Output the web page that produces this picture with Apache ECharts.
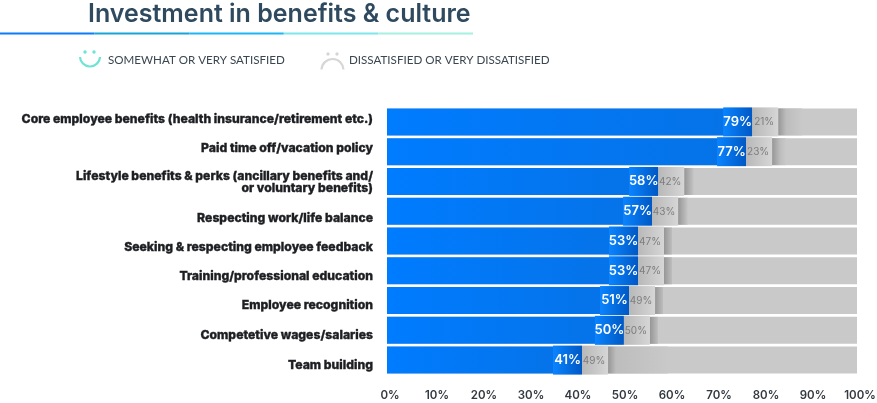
<!DOCTYPE html>
<html><head><meta charset="utf-8">
<style>html,body{margin:0;padding:0;background:#fff}#c{width:877px;height:403px}</style>
<script src="https://cdn.jsdelivr.net/npm/echarts@6/dist/echarts.min.js"></script>
</head><body><div id="c"></div>
<script>
const categories = [
  "Core employee benefits (health insurance/retirement etc.)",
  "Paid time off/vacation policy",
  "Lifestyle benefits & perks (ancillary benefits and/\nor voluntary benefits)",
  "Respecting work/life balance",
  "Seeking & respecting employee feedback",
  "Training/professional education",
  "Employee recognition",
  "Competetive wages/salaries",
  "Team building"
];
const satisfiedLabels = [79,77,58,57,53,53,51,50,41];
const dissatisfiedLabels = [21,23,42,43,47,47,49,50,49];
const barLengths = [77.7,76.4,57.7,56.4,53.4,53.4,51.5,50.4,41.5];
const trackValues = [100,100,100,100,100,100,100,100,100];
const shadeWidths = [24,14,10,10,8,8,8,8,60];
const labelShifts = [-3,-3,1,7,6,6,5,5,5];
const xTicks = [0,10,20,30,40,50,60,70,80,90,100];

const chart = echarts.init(document.getElementById('c'), null, {renderer:'canvas'});
const hg = (a,b)=>({type:'linear',x:0,y:0,x2:1,y2:0,colorStops:[{offset:0,color:a},{offset:1,color:b}]});

const g = [];
const lineCols = ['#0b7dfb','#16a5d8','#1db6f4','#7ee7ee','#a5f0e0'];
lineCols.forEach((c,i)=>g.push({type:'rect',shape:{x:i*94.6,y:32.5,width:94.6,height:2},style:{fill:c}}));
g.push({type:'text',x:88,y:14,style:{text:'Investment in benefits & culture',font:'600 25px "Inter"',fill:'#2f4a5f',textVerticalAlign:'middle',textAlign:'left'}});
// smile
g.push({type:'circle',shape:{cx:85,cy:52,r:1.7},style:{fill:'#6fe3d6'}});
g.push({type:'circle',shape:{cx:94,cy:52,r:1.7},style:{fill:'#6fe3d6'}});
g.push({type:'arc',shape:{cx:90,cy:56.5,r:10,startAngle:0.05,endAngle:Math.PI-0.05,clockwise:true},style:{stroke:'#6fe3d6',lineWidth:2.2,fill:null}});
g.push({type:'text',x:108,y:60,style:{text:'SOMEWHAT OR VERY SATISFIED',font:'11.6px "Lato"',fill:'#3a4650',textVerticalAlign:'middle'}});
// frown
g.push({type:'circle',shape:{cx:328,cy:54,r:1.7},style:{fill:'#d6d6d6'}});
g.push({type:'circle',shape:{cx:337,cy:54,r:1.7},style:{fill:'#d6d6d6'}});
g.push({type:'arc',shape:{cx:332.5,cy:70,r:11,startAngle:Math.PI+0.05,endAngle:2*Math.PI-0.05,clockwise:true},style:{stroke:'#d6d6d6',lineWidth:2.2,fill:null}});
g.push({type:'text',x:349,y:60,style:{text:'DISSATISFIED OR VERY DISSATISFIED',font:'11.6px "Lato"',fill:'#3a4650',textVerticalAlign:'middle'}});

const rich = {};
labelShifts.forEach((d,i)=>{
  rich['s'+i]={fontFamily:'Inter',fontWeight:800,fontSize:12.2,lineHeight:12,color:'#1c1e22',align:'right',
    textBorderColor:'#1c1e22',textBorderWidth:0.35,
    padding:[Math.max(2*d,0),0,Math.max(-2*d,0),0]};
});

chart.setOption({
  animation:false,
  graphic:g,
  grid:{left:387,right:20,top:107,height:268,containLabel:false,outerBoundsMode:'none'},
  xAxis:{type:'value',min:0,max:100,interval:10,
    axisLine:{show:false},axisTick:{show:false},splitLine:{show:false},
    axisLabel:{formatter:v=>xTicks.includes(v)?v+'%':'',margin:15,padding:[0,0,0,6],color:'#33393f',fontFamily:'Inter',fontWeight:600,fontSize:11.5}},
  yAxis:{type:'category',inverse:true,data:categories,
    axisLine:{show:false},axisTick:{show:false},splitLine:{show:false},
    axisLabel:{margin:14,align:'right',
      formatter:(v,i)=>v.split('\n').map(l=>`{s${i}|${l}}`).join('\n'),
      rich}},
  series:[
    {type:'bar',data:trackValues,barWidth:27,barGap:'-100%',itemStyle:{color:'#c9c9c9'},silent:true,z:1},
    {type:'bar',data:barLengths,barWidth:27,barGap:'-100%',itemStyle:{color:hg('#007cff','#0672e6')},silent:true,z:2},
    {type:'custom',z:3,silent:true,
      data:barLengths.map((v,i)=>[v,i]),
      encode:{x:0,y:1},
      renderItem:(p,api)=>{
        const i=api.value(1);
        const pt=api.coord([api.value(0),i]);
        const h=29,x=pt[0],y=pt[1]-h/2;
        const bw=29,lw=26,sw=shadeWidths[i];
        return {type:'group',children:[
          {type:'rect',shape:{x:x+lw,y:y+1,width:sw,height:h-2},style:{fill:{type:'linear',x:0,y:0,x2:1,y2:0,colorStops:[{offset:0,color:'#969696'},{offset:Math.min(1,8/sw),color:'#bdbdbd'},{offset:1,color:'#c9c9c9'}]}}},
          {type:'rect',shape:{x:x-bw,y,width:bw,height:h},style:{fill:hg('#0a84ff','#0058c4')}},
          {type:'rect',shape:{x,y,width:lw,height:h},style:{fill:hg('#b8b8b8','#d6d6d6')}},
          {type:'text',x:x-bw/2,y:pt[1],style:{text:satisfiedLabels[i]+'%',font:'600 13px "Inter"',fill:'#fff',textAlign:'center',textVerticalAlign:'middle'}},
          {type:'text',x:x+lw/2-1,y:pt[1]+0.5,style:{text:dissatisfiedLabels[i]+'%',font:'10px "Inter"',fill:'#7d7d7d',textAlign:'center',textVerticalAlign:'middle'}}
        ]};
      }}
  ]
});
</script></body></html>
